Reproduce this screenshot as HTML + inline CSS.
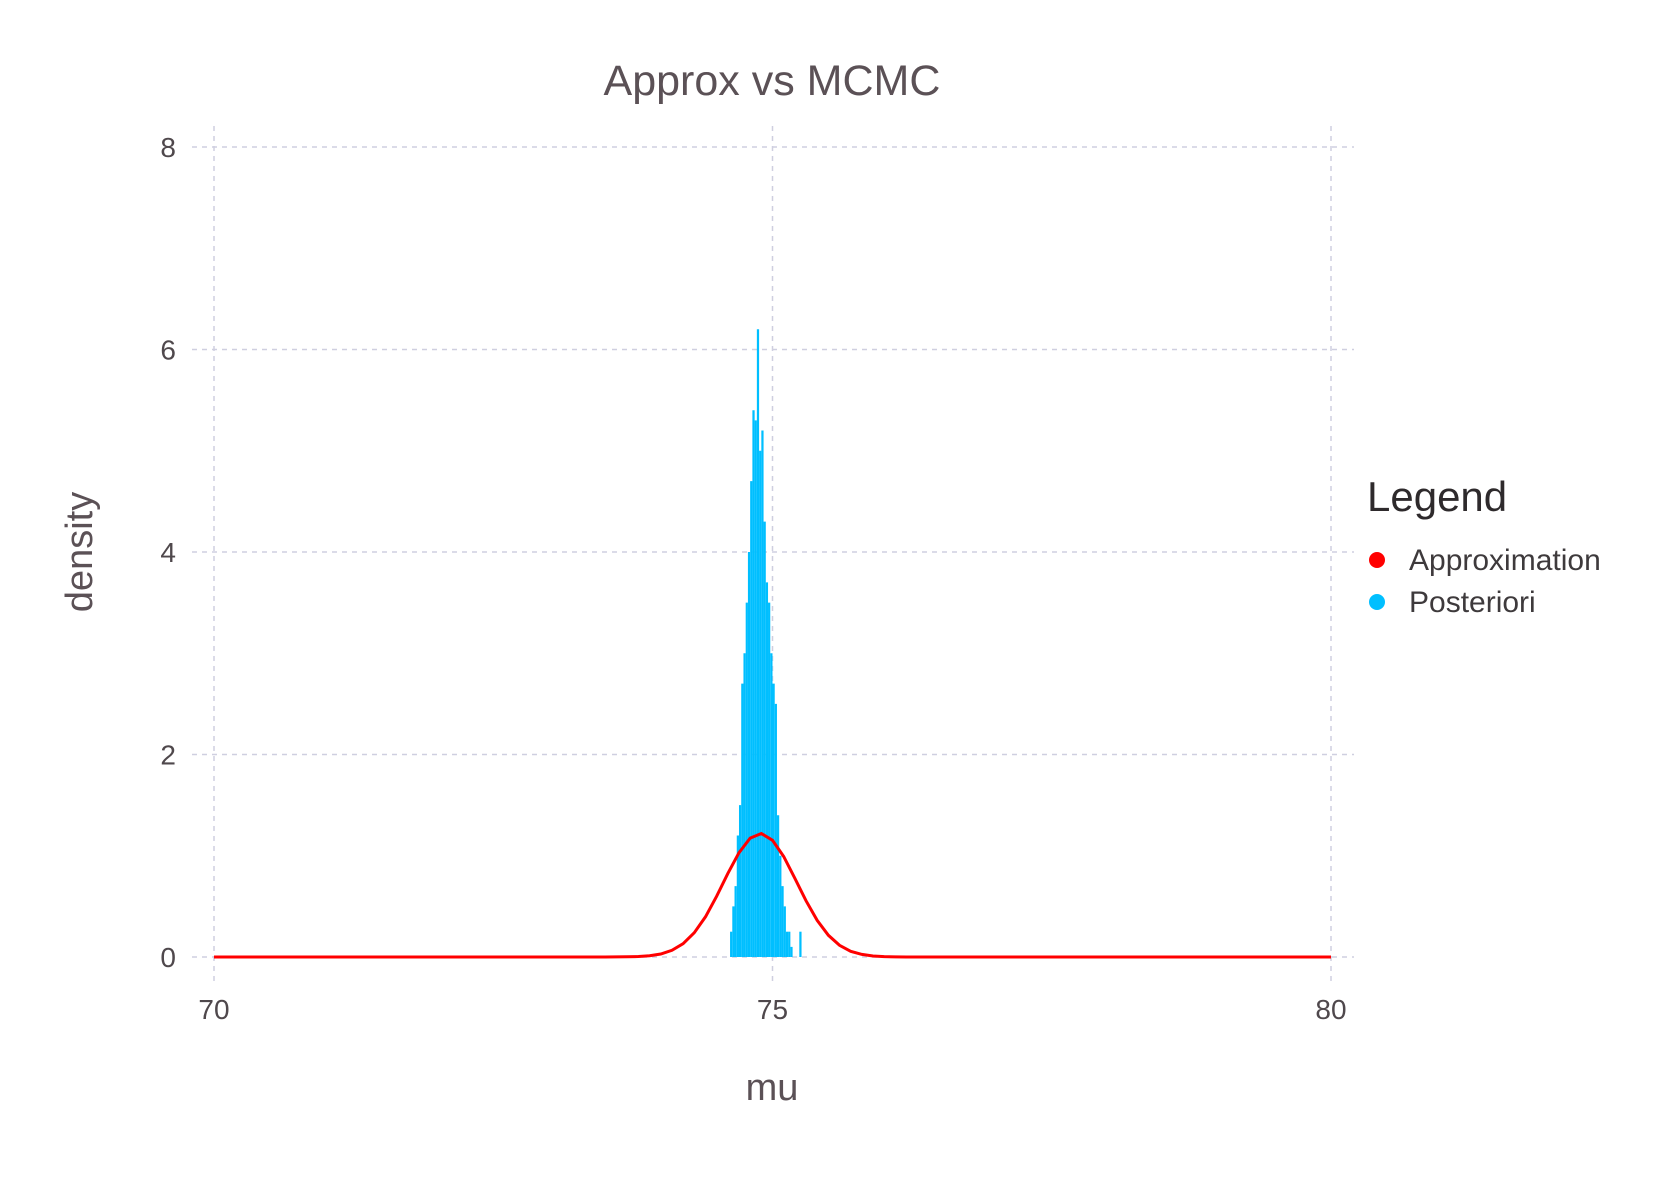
<!DOCTYPE html>
<html><head><meta charset="utf-8"><style>
body{margin:0;background:#fff;}
svg text{font-family:"Liberation Sans",sans-serif;fill:#5b5156;}
</style></head><body>
<svg width="1670" height="1181" viewBox="0 0 1670 1181">
<g id="grid"></g>
<g id="bars"></g>
<path id="curve" fill="none" stroke="#ff0000" stroke-width="3"/>
<g id="ticks"></g>
<text x="772" y="95" font-size="43" text-anchor="middle">Approx vs MCMC</text>
<text x="772" y="1100" font-size="38" text-anchor="middle">mu</text>
<text transform="translate(92,552) rotate(-90)" font-size="38" text-anchor="middle">density</text>
<g>
<text x="1367" y="511" font-size="42" style="fill:#2e2a2c">Legend</text>
<g><circle cx="1377" cy="560" r="8" fill="#ff0000"/><text x="1409" y="570" font-size="30" style="fill:#3e3a3c">Approximation</text></g>
<g><circle cx="1377" cy="602" r="8" fill="#00bfff"/><text x="1409" y="612" font-size="30" style="fill:#3e3a3c">Posteriori</text></g>
</g>
</svg>
<script>
const xTicks=[70,75,80];
const yTicks=[0,2,4,6,8];
const binStarts=[74.62,74.64,74.66,74.68,74.70,74.72,74.74,74.76,74.78,74.80,74.82,74.84,74.86,74.88,74.90,74.92,74.94,74.96,74.98,75.00,75.02,75.04,75.06,75.08,75.10,75.12,75.14,75.16,75.18,75.20,75.22,75.24];
const binDensity=[0.25,0.5,0.7,1.2,1.5,2.7,3.0,3.5,4.0,4.7,5.4,5.3,6.2,5.0,5.2,4.3,3.7,3.5,3.0,2.7,2.5,1.4,1.0,0.7,0.5,0.25,0.25,0.1,0,0,0,0.25];
const binWidth=0.02;
const approxMean=74.89, approxSd=0.327;
const X=v=>214+(v-70)*(1331-214)/10;
const Y=v=>957-v*(957-147)/8;
const ns="http://www.w3.org/2000/svg";
const grid=document.getElementById('grid'),ticks=document.getElementById('ticks');
function mk(tag,attrs,parent){const e=document.createElementNS(ns,tag);for(const k in attrs)e.setAttribute(k,attrs[k]);parent.appendChild(e);return e;}
yTicks.forEach(t=>{
 const l=mk('line',{x1:192,x2:1354,y1:Y(t),y2:Y(t),stroke:'#cfcfe0','stroke-width':1.5,'stroke-dasharray':'5,5'},grid);
 
 
 const tx=mk('text',{x:176,y:Y(t)+10,'font-size':28,'text-anchor':'end',style:'fill:#4f484c'},ticks);tx.textContent=t;
 
 
});
xTicks.forEach(t=>{
 const l=mk('line',{x1:X(t),x2:X(t),y1:126,y2:986,stroke:'#cfcfe0','stroke-width':1.5,'stroke-dasharray':'5,5'},grid);
 
 
 const tx=mk('text',{x:X(t),y:1019,'font-size':28,'text-anchor':'middle',style:'fill:#4f484c'},ticks);tx.textContent=t;
 
 
});
const bars=document.getElementById('bars');
binStarts.forEach((s,i)=>{
 const v=binDensity[i];if(v<=0)return;
 const r=mk('rect',{x:X(s),y:Y(v),width:X(s+binWidth)-X(s),height:Y(0)-Y(v),fill:'#00bfff'},bars);
 
 
});
let d='';
for(let i=0;i<=100;i++){const x=70+i*0.1;const y=Math.exp(-0.5*((x-approxMean)/approxSd)**2)/(approxSd*Math.sqrt(2*Math.PI));d+=(i?'L':'M')+X(x).toFixed(1)+','+Y(y).toFixed(1);}
document.getElementById('curve').setAttribute('d',d);
</script>
</body></html>
